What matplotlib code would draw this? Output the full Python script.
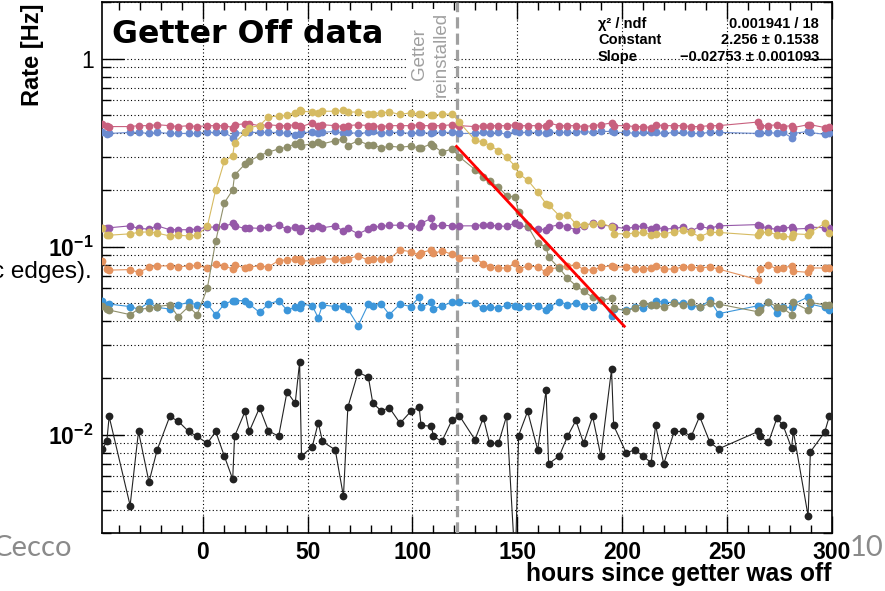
import numpy as np
import matplotlib
matplotlib.use('Agg')
import matplotlib.pyplot as plt
from matplotlib.ticker import LogLocator, MultipleLocator, NullFormatter

plt.rcParams['font.family'] = ['Liberation Sans', 'DejaVu Sans']
plt.rcParams['mathtext.fontset'] = 'custom'
plt.rcParams['mathtext.rm'] = 'Liberation Sans:bold'
plt.rcParams['mathtext.it'] = 'Liberation Sans:bold'
plt.rcParams['mathtext.bf'] = 'Liberation Sans:bold'

# hours since getter was off (common time grid)
hours = [-47.8, -45.7, -44.6, -34.6, -30.6, -25.6, -21.7, -15.7, -11.7, -6.7, -2.7,
         2.2, 6.2, 10.3, 14.3, 15.2, 20.2, 22.2, 27.1, 31.3, 36.2,
         40.2, 44.1, 46.2, 47.1, 52.2, 55.1, 57.1, 63.2, 67.1, 69.2,
         74.1, 79.0, 81.1, 85.1, 89.0, 94.1, 99.2, 103.2, 104.1, 109.0,
         110.0, 114.0, 118.9, 122.4, 129.8, 133.8, 136.8, 141.0, 144.9, 149.0,
         150.6, 154.9, 159.7, 163.7, 164.9, 170.0, 173.9, 177.9, 181.6, 185.9,
         189.8, 194.9, 195.9, 201.9, 205.9, 209.8, 213.8, 215.9, 219.8, 224.8,
         228.9, 232.9, 236.9, 241.8, 245.9, 264.8, 265.7, 269.7, 273.7, 276.7,
         280.7, 281.6, 288.6, 289.7, 296.5, 298.7]

rate_pink = [0.45, 0.44, 0.435, 0.435, 0.44, 0.44, 0.445, 0.44, 0.435, 0.44, 0.435,
             0.44, 0.44, 0.44, 0.43, 0.445, 0.45, 0.45, 0.44, 0.445, 0.44,
             0.44, 0.445, 0.44, 0.435, 0.455, 0.44, 0.445, 0.44, 0.435, 0.44,
             0.445, 0.44, 0.44, 0.435, 0.44, 0.44, 0.44, 0.445, 0.44, 0.44,
             0.44, 0.44, 0.445, 0.44, 0.435, 0.44, 0.44, 0.44, 0.44, 0.445,
             0.44, 0.44, 0.44, 0.44, 0.455, 0.44, 0.44, 0.44, 0.435, 0.44,
             0.445, 0.455, 0.44, 0.44, 0.435, 0.435, 0.43, 0.445, 0.44, 0.44,
             0.44, 0.435, 0.435, 0.44, 0.44, 0.46, 0.44, 0.44, 0.445, 0.435,
             0.44, 0.43, 0.445, 0.445, 0.43, 0.435]

rate_blue = [0.405, 0.395, 0.40, 0.405, 0.405, 0.40, 0.405, 0.40, 0.40, 0.40, 0.40,
             0.405, 0.405, 0.405, 0.38, 0.40, 0.405, 0.405, 0.405, 0.405, 0.405,
             0.40, 0.39, 0.395, 0.405, 0.405, 0.40, 0.405, 0.41, 0.40, 0.405,
             0.40, 0.405, 0.41, 0.40, 0.405, 0.405, 0.40, 0.405, 0.405, 0.40,
             0.405, 0.405, 0.405, 0.40, 0.40, 0.405, 0.40, 0.405, 0.395, 0.41,
             0.405, 0.405, 0.405, 0.40, 0.405, 0.405, 0.405, 0.405, 0.41, 0.405,
             0.41, 0.41, 0.405, 0.405, 0.40, 0.405, 0.405, 0.405, 0.40, 0.405,
             0.405, 0.40, 0.40, 0.405, 0.405, 0.40, 0.40, 0.405, 0.40, 0.405,
             0.38, 0.40, 0.41, 0.405, 0.395, 0.40]

rate_yellow = [0.125, 0.115, 0.115, 0.117, 0.119, 0.12, 0.118, 0.114, 0.115, 0.114, 0.115,
               0.128, 0.2, 0.284, 0.305, 0.356, 0.405, 0.43, 0.44, 0.49, 0.495,
               0.5, 0.515, 0.535, 0.525, 0.52, 0.515, 0.525, 0.525, 0.53, 0.52,
               0.52, 0.51, 0.51, 0.515, 0.52, 0.505, 0.515, 0.505, 0.505, 0.503,
               0.5, 0.505, 0.508, 0.458, 0.369, 0.359, 0.345, 0.324, 0.299, 0.267,
               0.244, 0.226, 0.195, 0.169, 0.167, 0.146, 0.148, 0.132, 0.131, 0.132,
               0.134, 0.127, 0.117, 0.117, 0.118, 0.119, 0.116, 0.117, 0.117, 0.12,
               0.122, 0.119, 0.113, 0.119, 0.119, 0.115, 0.119, 0.119, 0.116, 0.114,
               0.112, 0.117, 0.116, 0.119, 0.133, 0.118]

rate_olive = [0.0485, 0.0467, 0.046, 0.0435, 0.0465, 0.047, 0.048, 0.049, 0.0425, 0.048, 0.0435,
              0.06, 0.107, 0.171, 0.2, 0.24, 0.275, 0.285, 0.305, 0.318, 0.331,
              0.338, 0.352, 0.36, 0.345, 0.352, 0.36, 0.352, 0.366, 0.374, 0.345,
              0.366, 0.348, 0.348, 0.335, 0.342, 0.338, 0.342, 0.335, 0.335, 0.352,
              0.345, 0.318, 0.331, 0.30, 0.257, 0.234, 0.224, 0.207, 0.187, 0.183,
              0.152, 0.129, 0.104, 0.10, 0.088, 0.0767, 0.068, 0.062, 0.058, 0.0537,
              0.052, 0.053, 0.0472, 0.0456, 0.047, 0.05, 0.049, 0.049, 0.0475, 0.05,
              0.049, 0.0505, 0.0475, 0.05, 0.0495, 0.045, 0.046, 0.0505, 0.048, 0.047,
              0.0435, 0.0505, 0.046, 0.0505, 0.049, 0.049]

rate_purple = [0.125, 0.125, 0.126, 0.129, 0.125, 0.124, 0.129, 0.123, 0.123, 0.123, 0.124,
               0.127, 0.127, 0.128, 0.133, 0.129, 0.125, 0.126, 0.125, 0.127, 0.13,
               0.124, 0.127, 0.121, 0.125, 0.125, 0.128, 0.126, 0.129, 0.121, 0.125,
               0.117, 0.124, 0.127, 0.128, 0.13, 0.13, 0.128, 0.127, 0.133, 0.1415,
               0.128, 0.13, 0.129, 0.129, 0.129, 0.131, 0.13, 0.129, 0.128, 0.134,
               0.13, 0.127, 0.124, 0.123, 0.127, 0.131, 0.127, 0.123, 0.129, 0.133,
               0.13, 0.129, 0.127, 0.125, 0.127, 0.129, 0.124, 0.127, 0.124, 0.125,
               0.127, 0.121, 0.128, 0.125, 0.129, 0.131, 0.129, 0.125, 0.124, 0.125,
               0.127, 0.124, 0.125, 0.127, 0.126, 0.125]

rate_orange = [0.0843, 0.076, 0.075, 0.0755, 0.073, 0.0775, 0.079, 0.079, 0.078, 0.079, 0.0795,
               0.077, 0.081, 0.079, 0.076, 0.08, 0.077, 0.078, 0.079, 0.078, 0.0843,
               0.085, 0.086, 0.086, 0.084, 0.084, 0.085, 0.086, 0.086, 0.085, 0.086,
               0.0895, 0.0845, 0.086, 0.086, 0.086, 0.096, 0.094, 0.09, 0.093, 0.096,
               0.092, 0.095, 0.091, 0.087, 0.087, 0.081, 0.0775, 0.077, 0.077, 0.082,
               0.076, 0.079, 0.078, 0.073, 0.076, 0.0775, 0.079, 0.080, 0.0755, 0.075,
               0.078, 0.079, 0.078, 0.078, 0.076, 0.076, 0.077, 0.079, 0.076, 0.076,
               0.078, 0.078, 0.077, 0.078, 0.076, 0.0667, 0.076, 0.08, 0.076, 0.077,
               0.079, 0.074, 0.073, 0.077, 0.077, 0.077]

rate_lightblue = [0.0516, 0.049, 0.0495, 0.048, 0.0465, 0.0505, 0.0475, 0.0466, 0.049, 0.0505, 0.049,
                  0.0495, 0.0435, 0.0495, 0.0516, 0.0516, 0.0516, 0.0495, 0.0447, 0.0495, 0.0516,
                  0.046, 0.0475, 0.047, 0.0495, 0.0485, 0.0418, 0.049, 0.048, 0.0485, 0.0465,
                  0.038, 0.0495, 0.0485, 0.0495, 0.0435, 0.0495, 0.048, 0.054, 0.0475, 0.0505,
                  0.0465, 0.0485, 0.0505, 0.0505, 0.05, 0.047, 0.048, 0.047, 0.049, 0.0485,
                  0.0475, 0.0485, 0.0485, 0.046, 0.0475, 0.051, 0.049, 0.05, 0.0485, 0.048,
                  0.052, 0.043, 0.0465, 0.046, 0.0475, 0.047, 0.049, 0.0516, 0.0505, 0.0505,
                  0.05, 0.0485, 0.0475, 0.052, 0.044, 0.0485, 0.0475, 0.0505, 0.0445, 0.0475,
                  0.0475, 0.0495, 0.054, 0.0495, 0.0475, 0.046]

rate_black = [0.0084, 0.0092, 0.0125, 0.0042, 0.0104, 0.0056, 0.0083, 0.0125, 0.0118, 0.0104, 0.0098,
              0.0090, 0.0104, 0.0077, 0.0058, 0.0098, 0.0133, 0.0104, 0.0139, 0.0105, 0.0098,
              0.0169, 0.0147, 0.0243, 0.0077, 0.0086, 0.0116, 0.0092, 0.0083, 0.0047, 0.0140,
              0.0215, 0.0202, 0.0147, 0.0134, 0.0139, 0.0115, 0.0133, 0.0140, 0.0112, 0.0111,
              0.0098, 0.0092, 0.0120, 0.0126, 0.0094, 0.0123, 0.0090, 0.0090, 0.0126, 0.0020,
              0.0099, 0.0133, 0.0083, 0.0172, 0.0070, 0.0077, 0.0098, 0.0119, 0.0090, 0.0125,
              0.0077, 0.0223, 0.0112, 0.0080, 0.0083, 0.0077, 0.0071, 0.0112, 0.0070, 0.0104,
              0.0104, 0.0098, 0.0125, 0.0091, 0.0084, 0.0104, 0.0098, 0.0091, 0.0122, 0.0112,
              0.0085, 0.0104, 0.0037, 0.0081, 0.0103, 0.0125]

# expo fit result shown in the stats box
fit_const = 2.256
fit_slope = -0.02753
fit_start = 121
fit_end = 201
getter_reinstalled = 121

fig = plt.figure(figsize=(8.85, 5.91), dpi=100)
W, H = 885, 591
ax = fig.add_axes([102 / W, 1 - 533 / H, 730 / W, 531 / H])

series = [
    (rate_black, '#222222'),
    (rate_lightblue, '#3c96da'),
    (rate_orange, '#e4925e'),
    (rate_purple, '#9558a8'),
    (rate_blue, '#6b8bd0'),
    (rate_pink, '#c8607e'),
    (rate_olive, '#8f8f6b'),
    (rate_yellow, '#d6bb62'),
]
for i, (vals, col) in enumerate(series):
    ax.plot(hours, vals, '-o', color=col, lw=0.8, ms=5.6, mec='none', zorder=4 + i * 0.1)

# fit line
tf = np.linspace(fit_start, fit_end, 50)
ax.plot(tf, np.exp(fit_const + fit_slope * tf), color='red', lw=2, zorder=6)

# getter reinstalled marker
ax.axvline(getter_reinstalled, color='#a0a0a0', lw=2.3, linestyle=(0, (3.5, 1.6)), zorder=3)

ax.set_yscale('log')
ax.set_xlim(-48, 300)
ax.set_ylim(0.003, 2.0)

ax.set_yticks([0.01, 0.1, 1], [r'$10^{-2}$', r'$10^{-1}$', '1'])
ax.yaxis.set_minor_locator(LogLocator(base=10, subs=np.arange(2, 10)))
ax.yaxis.set_minor_formatter(NullFormatter())
ax.set_xticks([0, 50, 100, 150, 200, 250, 300])
ax.xaxis.set_minor_locator(MultipleLocator(10))

ax.tick_params(which='both', direction='in', top=True, right=True, width=1,
               labelsize=16.5, colors='black')
ax.tick_params(axis='y', which='major', length=16, pad=6)
ax.tick_params(axis='y', which='minor', length=6.5)
ax.tick_params(axis='x', which='major', length=12, pad=6)
ax.tick_params(axis='x', which='minor', length=6)
for lab in ax.get_xticklabels():
    lab.set_fontweight('bold')

grid_style = dict(color='black', linestyle=(0, (1, 2.2)), linewidth=0.8)
ax.grid(True, axis='y', which='both', **grid_style)
ax.grid(True, axis='x', which='major', **grid_style)
ax.set_axisbelow(True)
for sp in ax.spines.values():
    sp.set_linewidth(1.2)

# axis titles, ROOT style
fig.text(832 / W, 1 - 581 / H, 'hours since getter was off', ha='right', va='baseline',
         fontsize=17.7, fontweight='bold')
fig.text(32 / W, 1 - 3 / H, 'Rate [Hz]', rotation=90, ha='center', va='top',
         fontsize=17, fontweight='bold')

# title inside the frame
fig.text(112 / W, 1 - 43 / H, 'Getter Off data', fontfamily=['DejaVu Sans'],
         fontweight='bold', fontsize=22.8, va='baseline', ha='left')

# annotation at the dashed line
ax.text(430 / W, 1 - 54 / H, 'Getter\nreinstalled', transform=fig.transFigure,
        rotation=90, ha='center', va='center', multialignment='center',
        fontsize=13.5, color='#a0a0a0', linespacing=1.35, zorder=2,
        bbox=dict(facecolor='white', edgecolor='none', pad=2))

# stats box
stat_names = ['\u03c7\u00b2 / ndf', 'Constant', 'Slope']
stat_vals = ['0.001941 / 18', '2.256 \u00b1 0.1538', '\u22120.02753 \u00b1 0.001093']
for k, (nm, vl) in enumerate(zip(stat_names, stat_vals)):
    yy = 1 - (24 + 16.5 * k) / H
    fig.text(598 / W, yy, nm, ha='left', va='center', fontsize=10.5, fontweight='bold')
    fig.text(819 / W, yy, vl, ha='right', va='center', fontsize=10.5, fontweight='bold')

# slide leftovers around the plot
fig.text(92 / W, 1 - 272 / H, 'c edges).', ha='right', va='center', fontsize=17.5)
fig.text(72 / W, 1 - 548 / H, 'Cecco', ha='right', va='center', fontsize=21,
         color='#8a8a8a', fontfamily=['Lato', 'DejaVu Sans'])
fig.text(850 / W, 1 - 548 / H, '10', ha='left', va='center', fontsize=21,
         color='#8a8a8a', fontfamily=['Lato', 'DejaVu Sans'])

fig.savefig('out.png', dpi=100)
